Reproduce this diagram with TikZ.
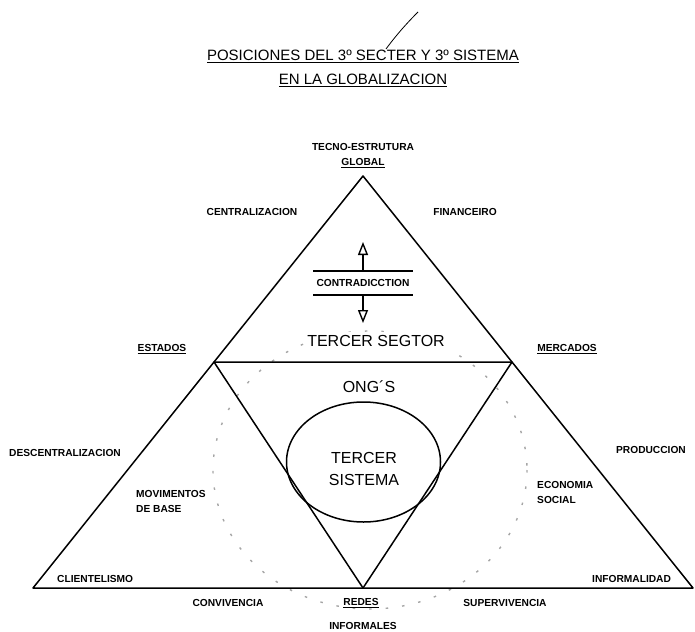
\documentclass[tikz,border=0pt]{standalone}
\usepackage{fontspec}
\setmainfont{Liberation Sans}
\usetikzlibrary{arrows.meta}
\tikzset{
    lbl/.style={font=\fontsize{10.2}{15}\selectfont\bfseries, inner sep=0pt},
    biglbl/.style={font=\fontsize{16}{22}\selectfont, inner sep=1pt},
    edge/.style={line width=1.5pt, line join=round},
    opentip/.style={line width=1.6pt, -{Triangle[open, length=13pt, width=10pt, line width=1.4pt]}},
}
\begin{document}
\begin{tikzpicture}[x=1pt, y=-1pt]
    \useasboundingbox (0,0) rectangle (695,631);

    % Title
    \node[font=\fontsize{15}{18}\selectfont, inner sep=0pt] (title1) at (363,56) {\underline{POSICIONES DEL 3º SECTER Y 3º SISTEMA}};
    \node[font=\fontsize{15}{18}\selectfont, inner sep=0pt] (title2) at (363,80) {\underline{EN LA GLOBALIZACION}};
    \draw[line width=0.8pt] (386,49) .. controls (397,34) and (408,22) .. (418,12);

    % Dashed circle round the inner triangle
    \draw[gray!70, line width=1.4pt, dash pattern=on 2.5pt off 14pt] (370,470) ellipse [x radius=157, y radius=139];

    % Outer and inner triangles
    \coordinate (apex) at (363,176);
    \coordinate (bl) at (33,588);
    \coordinate (br) at (693,588);
    \coordinate (ml) at (214,362);
    \coordinate (mr) at (512,362);
    \coordinate (vb) at (363,588);
    \draw[edge] (apex) -- (br) -- (bl) -- cycle;
    \draw[edge] (ml) -- (mr) -- (vb) -- cycle;

    % Tercer sistema
    \draw[line width=1.5pt] (363.5,462) ellipse [x radius=77, y radius=60];
    \node[biglbl, align=center] (sistema) at (364,469) {TERCER\\SISTEMA};
    \node[biglbl] (ongs) at (369,387) {ONG´S};
    \node[biglbl, fill=white, inner sep=3pt] (sector) at (376,341) {TERCER SEGTOR};

    % Contradiction with arrows
    \node[lbl, minimum width=99pt, minimum height=23pt] (contr) at (363,283) {CONTRADICCTION};
    \draw[line width=1.8pt] (contr.north west) -- (contr.north east);
    \draw[line width=1.8pt] (contr.south west) -- (contr.south east);
    \coordinate (uptip) at (363,242);
    \coordinate (downtip) at (363,323);
    \draw[opentip] (contr.north) -- (uptip);
    \draw[opentip] (contr.south) -- (downtip);

    % Labels round the pyramid
    \node[lbl] (tecno) at (363,147) {TECNO-ESTRUTURA};
    \node[lbl] (global) at (363,163) {\underline{GLOBAL}};
    \node[lbl] (central) at (252,212) {CENTRALIZACION};
    \node[lbl] (financ) at (465,212) {FINANCEIRO};
    \node[lbl] (estados) at (162,349) {\underline{ESTADOS}};
    \node[lbl] (mercados) at (567,349) {\underline{MERCADOS}};
    \node[lbl] (descent) at (65,453) {DESCENTRALIZACION};
    \node[lbl] (produc) at (651,450) {PRODUCCION};
    \node[lbl, anchor=west, align=left] (movim) at (136,501) {MOVIMENTOS\\DE BASE};
    \node[lbl, anchor=west, align=left] (econ) at (537,492) {ECONOMIA\\SOCIAL};
    \node[lbl, anchor=west] (client) at (57,579) {CLIENTELISMO};
    \node[lbl, anchor=west] (informal) at (592,579) {INFORMALIDAD};

    % Bottom row
    \node[lbl] (conviv) at (228,603) {CONVIVENCIA};
    \node[lbl] (redes) at (361,603) {\underline{REDES}};
    \node[lbl] (superv) at (505,603) {SUPERVIVENCIA};
    \node[lbl] (informales) at (363,626) {INFORMALES};
\end{tikzpicture}
\end{document}
